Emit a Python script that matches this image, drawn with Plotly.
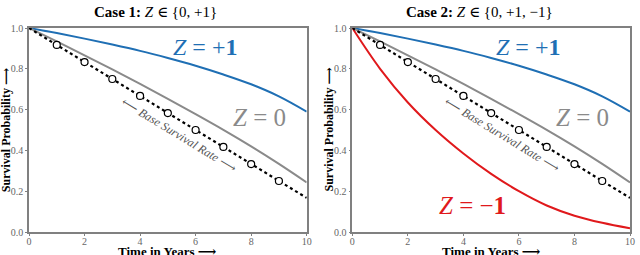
import plotly.graph_objects as go

# ---------------- data ----------------
years = [0, 1, 2, 3, 4, 5, 6, 7, 8, 9, 10]
base_rate = [1.0, 0.917, 0.833, 0.75, 0.667, 0.583, 0.5, 0.417, 0.333, 0.25, 0.167]
z_zero = [1.0, 0.934, 0.866, 0.797, 0.726, 0.653, 0.578, 0.501, 0.42, 0.334, 0.243]
z_plus = [1.0, 0.975, 0.948, 0.919, 0.888, 0.853, 0.815, 0.772, 0.724, 0.665, 0.59]
z_minus = [1.0, 0.80, 0.635, 0.50, 0.385, 0.285, 0.20, 0.13, 0.08, 0.045, 0.018]

x_ticks = [0, 2, 4, 6, 8, 10]
y_ticks = [0.0, 0.2, 0.4, 0.6, 0.8, 1.0]
titles = ["<b>Case 1:</b> <i>Z</i> ∈ {0, +1}", "<b>Case 2:</b> <i>Z</i> ∈ {0, +1, −1}"]

BLUE = "#1f6fb4"
GREY = "#8a8a8a"
RED = "#e0191c"
SERIF = "Liberation Serif, DejaVu Serif, serif"

W, H = 640, 255
ML, MR, MT, MB = 29, 5, 28, 23
pw = W - ML - MR
left_dom = [0, 280 / pw]
right_dom = [(355 - ML) / pw, 1]

fig = go.Figure()

panels = [("x", "y", False), ("x2", "y2", True)]
for xa, ya, with_minus in panels:
    fig.add_trace(go.Scatter(x=years, y=z_plus, mode="lines", line=dict(color=BLUE, width=2, shape="spline"),
                             xaxis=xa, yaxis=ya, showlegend=False, hoverinfo="skip"))
    fig.add_trace(go.Scatter(x=years, y=z_zero, mode="lines", line=dict(color=GREY, width=2, shape="spline"),
                             xaxis=xa, yaxis=ya, showlegend=False, hoverinfo="skip"))
    if with_minus:
        fig.add_trace(go.Scatter(x=years, y=z_minus, mode="lines", line=dict(color=RED, width=2, shape="spline"),
                                 xaxis=xa, yaxis=ya, showlegend=False, hoverinfo="skip"))
    fig.add_trace(go.Scatter(x=years, y=base_rate, mode="lines", line=dict(color="black", width=2.2, dash="dot"),
                             xaxis=xa, yaxis=ya, showlegend=False, hoverinfo="skip"))
    fig.add_trace(go.Scatter(x=years[1:-1], y=base_rate[1:-1], mode="markers",
                             marker=dict(symbol="circle", size=7, color="white", line=dict(color="black", width=1.2)),
                             xaxis=xa, yaxis=ya, showlegend=False, hoverinfo="skip"))

axis_common = dict(showline=True, linecolor="#808080", linewidth=1.5, mirror=True, showgrid=False,
                   zeroline=False, ticks="outside", ticklen=2, tickwidth=1, tickcolor="#808080",
                   tickfont=dict(family=SERIF, size=10, color="#666666"))

fig.update_layout(
    width=W, height=H, margin=dict(l=ML, r=MR, t=MT, b=MB),
    paper_bgcolor="white", plot_bgcolor="white",
    xaxis=dict(domain=left_dom, range=[0, 10], tickvals=x_ticks, ticktext=[str(v) for v in x_ticks], anchor="y",
               ticklabelstandoff=-3, **axis_common),
    yaxis=dict(domain=[0, 1], range=[0, 1], tickvals=y_ticks, ticktext=[f"{v:.1f}" for v in y_ticks], anchor="x", **axis_common),
    xaxis2=dict(domain=right_dom, range=[0, 10], tickvals=x_ticks, ticktext=[str(v) for v in x_ticks], anchor="y2",
                ticklabelstandoff=-3, **axis_common),
    yaxis2=dict(domain=[0, 1], range=[0, 1], tickvals=y_ticks, ticktext=[f"{v:.1f}" for v in y_ticks], anchor="x2", **axis_common),
)

def px_to_paper_x(px):
    return (px - ML) / pw

def px_to_paper_y(py):
    return (H - MB - py) / (H - MT - MB)

ann = []
# titles
for cx, t in [(157, titles[0]), (483, titles[1])]:
    ann.append(dict(x=px_to_paper_x(cx), y=px_to_paper_y(12), xref="paper", yref="paper", text=t,
                    showarrow=False, font=dict(family=SERIF, size=15, color="black"), xanchor="center", yanchor="middle"))
# axis labels
for cx in [169, 495]:
    ann.append(dict(x=px_to_paper_x(cx), y=px_to_paper_y(260), xref="paper", yref="paper", text="<b>Time in Years ⟶</b>",
                    showarrow=False, font=dict(family=SERIF, size=13, color="black"), xanchor="center", yanchor="bottom",
                    borderpad=0))
for cx in [6, 331]:
    ann.append(dict(x=px_to_paper_x(cx), y=px_to_paper_y(130), xref="paper", yref="paper", text="<b>Survival Probability ⟶</b>",
                    showarrow=False, textangle=-90, font=dict(family=SERIF, size=12, color="black"), xanchor="center", yanchor="middle"))

# curve labels
for xr, yr in [("x", "y"), ("x2", "y2")]:
    ann.append(dict(x=6.33, y=0.906, xref=xr, yref=yr, text="<i>Z</i> = +<b>1</b>", showarrow=False,
                    font=dict(family=SERIF, size=24, color=BLUE), xanchor="center", yanchor="middle"))
    ann.append(dict(x=8.3, y=0.562, xref=xr, yref=yr, text="<i>Z</i> = 0", showarrow=False,
                    font=dict(family=SERIF, size=25, color=GREY), xanchor="center", yanchor="middle"))
    ann.append(dict(x=5.4, y=0.475, xref=xr, yref=yr, text="⟵ <i>Base Survival Rate</i> ⟶", showarrow=False,
                    textangle=31.3, font=dict(family=SERIF, size=12, color="#555555"), xanchor="center", yanchor="middle"))
ann.append(dict(x=4.34, y=0.132, xref="x2", yref="y2", text="<i>Z</i> = −<b>1</b>", showarrow=False,
                font=dict(family=SERIF, size=25, color=RED), xanchor="center", yanchor="middle"))

fig.update_layout(annotations=ann)
fig.write_html("out.html", config={"displayModeBar": False},
               post_script="document.body.style.margin='0';document.body.style.padding='0';")
